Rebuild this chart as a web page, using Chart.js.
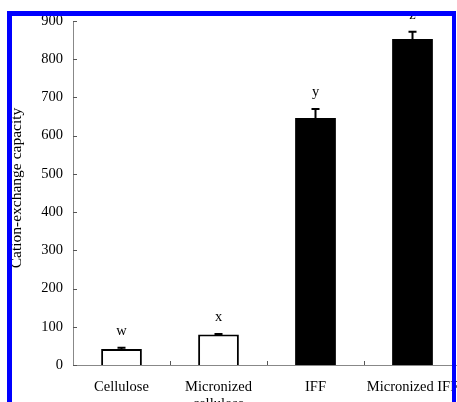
<!DOCTYPE html>
<html>
<head>
<meta charset="utf-8">
<script src="https://cdn.jsdelivr.net/npm/chart.js@4.4.1/dist/chart.umd.min.js"></script>
<style>
  html, body { margin: 0; padding: 0; background: #fff; overflow: hidden; width: 457px; height: 402px; }
  #wrap { position: relative; width: 457px; height: 402px; overflow: hidden; }
  canvas { position: absolute; left: 0; top: 0; }
  #frame { position: absolute; left: 7px; top: 11px; width: 449px; height: 430px; box-sizing: border-box;
           border-top: 5px solid #0000ff; border-left: 5px solid #0000ff; border-right: 4px solid #0000ff; pointer-events: none; }
</style>
</head>
<body>
<div id="wrap">
  <canvas id="c" width="480" height="420"></canvas>
  <div id="frame"></div>
</div>
<script>
const categories = ["Cellulose", ["Micronized", "cellulose"], "IFF", "Micronized IFF"];
const values = [42, 80, 646, 853];
const errors = [3, 1, 24, 19];
const letters = ["w", "x", "y", "z"];
const fills = ["#ffffff", "#ffffff", "#000000", "#000000"];
const yTitle = "Cation-exchange capacity";

const serif = "'Liberation Serif', 'Times New Roman', serif";

const decor = {
  id: 'decor',
  afterDatasetsDraw(chart) {
    const ctx = chart.ctx;
    const meta = chart.getDatasetMeta(0);
    const ys = chart.scales.y, xs = chart.scales.x;
    const area = chart.chartArea;
    ctx.save();
    // error bars
    ctx.strokeStyle = '#000';
    ctx.lineWidth = 2;
    meta.data.forEach((bar, i) => {
      const y0 = ys.getPixelForValue(values[i]);
      const y1 = ys.getPixelForValue(values[i] + errors[i]);
      ctx.beginPath();
      ctx.moveTo(bar.x, y0);
      ctx.lineTo(bar.x, y1);
      ctx.moveTo(bar.x - 4, y1);
      ctx.lineTo(bar.x + 4, y1);
      ctx.stroke();
    });
    // letters
    ctx.fillStyle = '#000';
    ctx.font = "14.5px " + serif;
    ctx.textAlign = 'center';
    ctx.textBaseline = 'middle';
    meta.data.forEach((bar, i) => {
      const y1 = ys.getPixelForValue(values[i] + errors[i]);
      ctx.fillText(letters[i], bar.x, y1 - 17);
    });
    // y axis title
    ctx.save();
    ctx.translate(17, (area.top + area.bottom) / 2 - 5);
    ctx.rotate(-Math.PI / 2);
    ctx.font = "15.5px " + serif;
    ctx.fillText(yTitle, 0, 0);
    ctx.restore();
    // axis tick marks (inward)
    ctx.strokeStyle = '#555';
    ctx.lineWidth = 1;
    ys.ticks.forEach(t => {
      const y = Math.round(ys.getPixelForValue(t.value)) + 0.5;
      ctx.beginPath();
      ctx.moveTo(area.left, y);
      ctx.lineTo(area.left + 4, y);
      ctx.stroke();
    });
    for (let i = 1; i < categories.length; i++) {
      const x = Math.round((xs.getPixelForValue(i - 1) + xs.getPixelForValue(i)) / 2) + 0.5;
      ctx.beginPath();
      ctx.moveTo(x, area.bottom);
      ctx.lineTo(x, area.bottom - 4);
      ctx.stroke();
    }
    ctx.restore();
  }
};

new Chart(document.getElementById('c'), {
  type: 'bar',
  data: {
    labels: categories,
    datasets: [{
      data: values,
      backgroundColor: fills,
      borderColor: '#000',
      borderWidth: [2, 2, 0, 0],
      borderSkipped: 'bottom',
      categoryPercentage: 1,
      barPercentage: 0.42
    }]
  },
  options: {
    responsive: false,
    animation: false,
    devicePixelRatio: 1,
    layout: { padding: { top: 21, right: 19, left: 0, bottom: 0 } },
    plugins: { legend: { display: false }, tooltip: { enabled: false } },
    scales: {
      x: {
        grid: { display: false, drawTicks: false },
        border: { display: true, color: '#888', width: 1 },
        ticks: { color: '#000', font: { family: serif, size: 14.5, lineHeight: 1.15 }, padding: 14, maxRotation: 0, autoSkip: false },
        afterFit(scale) { scale.height = 55; }
      },
      y: {
        min: 0, max: 900,
        grid: { display: false, drawTicks: false },
        border: { display: true, color: '#888', width: 1 },
        ticks: { stepSize: 100, color: '#000', font: { family: serif, size: 14.5 }, padding: 10 },
        afterFit(scale) { scale.width = 73; }
      }
    }
  },
  plugins: [decor]
});
</script>
</body>
</html>
